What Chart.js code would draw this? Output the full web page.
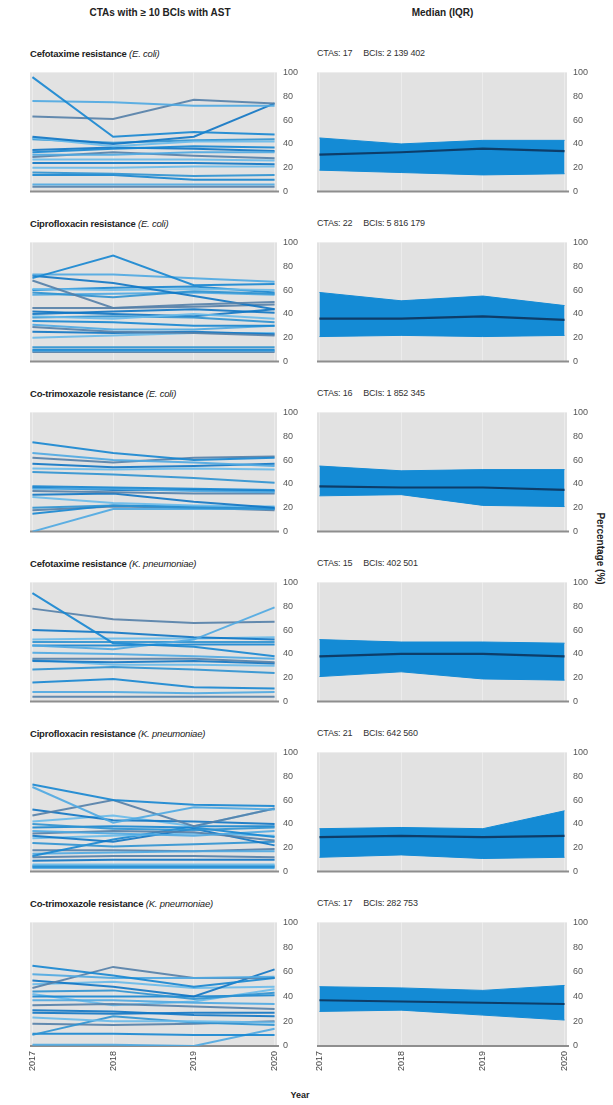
<!DOCTYPE html>
<html>
<head>
<meta charset="utf-8">
<script src="https://cdn.jsdelivr.net/npm/chart.js@4.4.1/dist/chart.umd.min.js"></script>
<style>
  html, body { margin: 0; padding: 0; background: #fff; }
  body { width: 613px; height: 1105px; position: relative; overflow: hidden;
         font-family: "Liberation Sans Narrow", "Liberation Sans", Arial, sans-serif; color: #222; }
  .abs { position: absolute; white-space: nowrap; }
  .head { font-weight: bold; font-size: 10px; text-align: center; }
  .ptitle { font-size: 9.5px; font-weight: bold; letter-spacing: -0.2px; }
  .ptitle i { font-weight: normal; }
  .pinfo { font-size: 9px; color: #333; letter-spacing: -0.2px; }
  .pinfo span + span { margin-left: 11px; }
  canvas { position: absolute; }
</style>
</head>
<body>
<div class="abs head" style="left:0;width:320px;top:7px;">CTAs with ≥ 10 BCIs with AST</div>
<div class="abs head" style="left:300px;width:285px;top:7px;">Median (IQR)</div>
<div class="abs head" style="left:560px;width:80px;top:543px;transform:rotate(90deg);transform-origin:center;">Percentage (%)</div>
<div class="abs head" style="left:280px;width:40px;top:1090px;font-size:9px;">Year</div>
<div id="panels"></div>

<script>
// Shared axes
const years = [2017, 2018, 2019, 2020];
const yTicks = [0, 20, 40, 60, 80, 100];

// Panel headings
const drugNames = ['Cefotaxime resistance', 'Ciprofloxacin resistance', 'Co-trimoxazole resistance',
                   'Cefotaxime resistance', 'Ciprofloxacin resistance', 'Co-trimoxazole resistance'];
const organisms = ['E. coli', 'E. coli', 'E. coli', 'K. pneumoniae', 'K. pneumoniae', 'K. pneumoniae'];
const ctaCounts = [17, 22, 16, 15, 21, 17];
const bciCounts = ['2 139 402', '5 816 179', '1 852 345', '402 501', '642 560', '282 753'];

// Resistance (%) per CTA, 2017–2020
const ctaCefotaximeEcoli = [
  [96,46,50,48],[76,75,72,72],[63,61,77,74],[46,40,46,74],[45,38,42,42],[44,41,43,44],
  [33,36,38,37],[31,31,33,33],[29,33,30,28],[24,24,24,23],[20,20,21,21],[16,15,13,14],
  [14,14,10,10],[6,6,6,6],[4,4,4,4],[35,37,36,34],[27,27,27,26]
];
const ctaCiprofloxacinEcoli = [
  [70,89,64,65],[73,73,70,67],[68,45,48,50],[72,66,55,44],[61,60,61,60],[58,54,59,57],
  [60,62,63,58],[56,57,58,56],[45,45,46,48],[40,42,44,41],[38,36,40,36],[37,38,37,33],
  [34,33,30,30],[31,27,27,30],[29,25,24,22],[25,24,25,23],[20,22,24,24],[12,12,12,12],
  [10,10,10,10],[9,9,9,9],[8,8,8,8],[42,40,38,44]
];
const ctaCotrimoxazoleEcoli = [
  [75,66,60,62],[66,60,58,55],[62,58,62,63],[57,54,55,57],[53,52,53,52],[50,48,45,41],
  [38,37,36,35],[36,36,34,33],[34,33,32,32],[31,32,25,20],[29,24,22,21],[20,22,20,19],
  [15,22,21,20],[0,19,19,19],[18,21,20,18],[37,35,35,34]
];
const ctaCefotaximeKpn = [
  [91,49,46,38],[47,44,52,79],[78,69,66,67],[60,58,54,52],[52,53,53,54],[50,50,50,50],
  [47,47,48,48],[41,40,38,36],[36,36,36,33],[34,33,34,32],[35,31,31,30],[27,29,27,24],
  [16,19,12,11],[8,8,7,8],[4,4,4,4]
];
const ctaCiprofloxacinKpn = [
  [73,60,56,55],[71,41,54,52],[47,60,38,53],[52,43,42,40],[42,47,38,53],[40,36,35,37],
  [37,38,37,29],[34,32,30,34],[32,34,33,26],[30,25,36,22],[28,30,32,30],[24,21,23,25],
  [13,27,38,38],[15,16,17,17],[12,13,13,12],[9,10,10,10],[6,6,6,6],[5,5,5,5],
  [4,4,4,4],[3,3,3,3],[18,18,17,19]
];
const ctaCotrimoxazoleKpn = [
  [65,57,48,55],[58,55,55,56],[47,64,55,55],[53,48,40,62],[50,52,47,48],[44,45,38,43],
  [40,40,40,41],[37,37,35,34],[33,34,32,30],[29,28,25,24],[23,20,20,19],[9,24,19,17],
  [10,10,9,9],[1,1,0,14],[18,17,18,20],[27,26,27,27],[42,33,36,46]
];

// Median and interquartile range (%), 2017–2020
const medianCefotaximeEcoli = [31,33,36,34];
const q1CefotaximeEcoli     = [18,16,14,15];
const q3CefotaximeEcoli     = [45,40,43,43];
const medianCiprofloxacinEcoli = [36,36,38,35];
const q1CiprofloxacinEcoli     = [21,22,21,22];
const q3CiprofloxacinEcoli     = [58,51,55,47];
const medianCotrimoxazoleEcoli = [38,37,37,35];
const q1CotrimoxazoleEcoli     = [30,31,22,21];
const q3CotrimoxazoleEcoli     = [55,51,52,52];
const medianCefotaximeKpn = [38,40,40,38];
const q1CefotaximeKpn     = [21,25,19,18];
const q3CefotaximeKpn     = [52,50,50,49];
const medianCiprofloxacinKpn = [29,30,29,30];
const q1CiprofloxacinKpn     = [12,14,11,12];
const q3CiprofloxacinKpn     = [36,37,36,51];
const medianCotrimoxazoleKpn = [37,36,35,34];
const q1CotrimoxazoleKpn     = [28,29,25,21];
const q3CotrimoxazoleKpn     = [48,47,45,49];

const ctaSets = [ctaCefotaximeEcoli, ctaCiprofloxacinEcoli, ctaCotrimoxazoleEcoli,
                 ctaCefotaximeKpn, ctaCiprofloxacinKpn, ctaCotrimoxazoleKpn];
const medianSets = [medianCefotaximeEcoli, medianCiprofloxacinEcoli, medianCotrimoxazoleEcoli,
                    medianCefotaximeKpn, medianCiprofloxacinKpn, medianCotrimoxazoleKpn];
const q1Sets = [q1CefotaximeEcoli, q1CiprofloxacinEcoli, q1CotrimoxazoleEcoli,
                q1CefotaximeKpn, q1CiprofloxacinKpn, q1CotrimoxazoleKpn];
const q3Sets = [q3CefotaximeEcoli, q3CiprofloxacinEcoli, q3CotrimoxazoleEcoli,
                q3CefotaximeKpn, q3CiprofloxacinKpn, q3CotrimoxazoleKpn];

const lineShades = ['rgba(22,134,210,0.9)', 'rgba(78,168,226,0.9)', 'rgba(84,128,168,0.9)',
                    'rgba(16,118,196,0.9)', 'rgba(104,186,234,0.9)', 'rgba(46,146,210,0.9)'];
const bandColour = '#148bd5';
const medianColour = '#0d3d69';
const panelGrey = '#e2e2e2';

Chart.defaults.font.family = '"Liberation Sans Narrow", "Liberation Sans", Arial, sans-serif';
Chart.defaults.font.size = 9;
Chart.defaults.color = '#555';

const toPoints = vals => years.map((yr, i) => ({ x: yr, y: vals[i] }));

// Grey plot background and the dark zero baseline
const panelBackdrop = {
  id: 'panelBackdrop',
  beforeDraw(chart) {
    const { ctx, chartArea: a } = chart;
    ctx.save();
    ctx.fillStyle = panelGrey;
    ctx.fillRect(a.left, a.top, a.right - a.left, a.bottom - a.top);
    ctx.restore();
  },
  beforeDatasetsDraw(chart) {
    const { ctx, chartArea: a, scales } = chart;
    const y0 = scales.y.getPixelForValue(0);
    ctx.save();
    ctx.strokeStyle = '#8e8e8e';
    ctx.lineWidth = 2;
    ctx.beginPath();
    ctx.moveTo(a.left, y0);
    ctx.lineTo(a.right + 2, y0);
    ctx.stroke();
    ctx.restore();
  }
};

function panelOptions(showYears) {
  return {
    responsive: false,
    animation: false,
    devicePixelRatio: 1,
    layout: { padding: { left: 6, top: 6, right: 0, bottom: showYears ? 0 : 7 } },
    plugins: { legend: { display: false }, tooltip: { enabled: false } },
    elements: { point: { radius: 0 }, line: { tension: 0 } },
    scales: {
      x: {
        type: 'linear', min: 2016.97, max: 2020.03,
        afterBuildTicks: s => { s.ticks = years.map(v => ({ value: v })); },
        afterFit: s => { s.height = showYears ? 36 : 0; },
        grid: { color: 'rgba(255,255,255,0.35)', lineWidth: 1, drawTicks: false },
        border: { display: false },
        ticks: { display: showYears, minRotation: 90, maxRotation: 90, padding: 5,
                 color: '#444', callback: v => String(v) }
      },
      y: {
        position: 'right', min: 0, max: 100,
        afterBuildTicks: s => { s.ticks = yTicks.map(v => ({ value: v })); },
        afterFit: s => { s.width = 30; },
        grid: { display: false, drawTicks: false },
        border: { display: false },
        ticks: { padding: 6, color: '#555' }
      }
    }
  };
}

const host = document.getElementById('panels');

function addCanvas(left, top, width, height) {
  const c = document.createElement('canvas');
  c.width = width; c.height = height;
  c.style.left = left + 'px'; c.style.top = top + 'px';
  c.style.width = width + 'px'; c.style.height = height + 'px';
  host.appendChild(c);
  return c;
}

function addText(cls, left, top, html) {
  const d = document.createElement('div');
  d.className = 'abs ' + cls;
  d.style.left = left + 'px';
  d.style.top = top + 'px';
  d.innerHTML = html;
  host.appendChild(d);
}

for (let p = 0; p < 6; p++) {
  const areaTop = 67 + 170 * p;
  const last = p === 5;
  const h = last ? 6 + 129 + 36 : 6 + 129 + 7;

  addText('ptitle', 30, areaTop - 19, drugNames[p] + ' <i>(' + organisms[p] + ')</i>');
  addText('pinfo', 317, areaTop - 19,
          '<span>CTAs: ' + ctaCounts[p] + '</span><span>BCIs: ' + bciCounts[p] + '</span>');

  // Individual CTA trajectories
  const lineSets = ctaSets[p].map((vals, i) => ({
    data: toPoints(vals),
    borderColor: lineShades[i % lineShades.length],
    borderWidth: 2,
    fill: false
  }));
  new Chart(addCanvas(24, areaTop - 6, 283, h), {
    type: 'line',
    data: { datasets: lineSets },
    options: panelOptions(last),
    plugins: [panelBackdrop]
  });

  // Median line over the IQR band
  new Chart(addCanvas(311, areaTop - 6, 286, h), {
    type: 'line',
    data: {
      datasets: [
        { data: toPoints(medianSets[p]), borderColor: medianColour, borderWidth: 2.2, fill: false },
        { data: toPoints(q3Sets[p]), borderColor: bandColour, borderWidth: 1,
          backgroundColor: bandColour, fill: 2 },
        { data: toPoints(q1Sets[p]), borderColor: bandColour, borderWidth: 1, fill: false }
      ]
    },
    options: panelOptions(last),
    plugins: [panelBackdrop]
  });
}
</script>
</body>
</html>
